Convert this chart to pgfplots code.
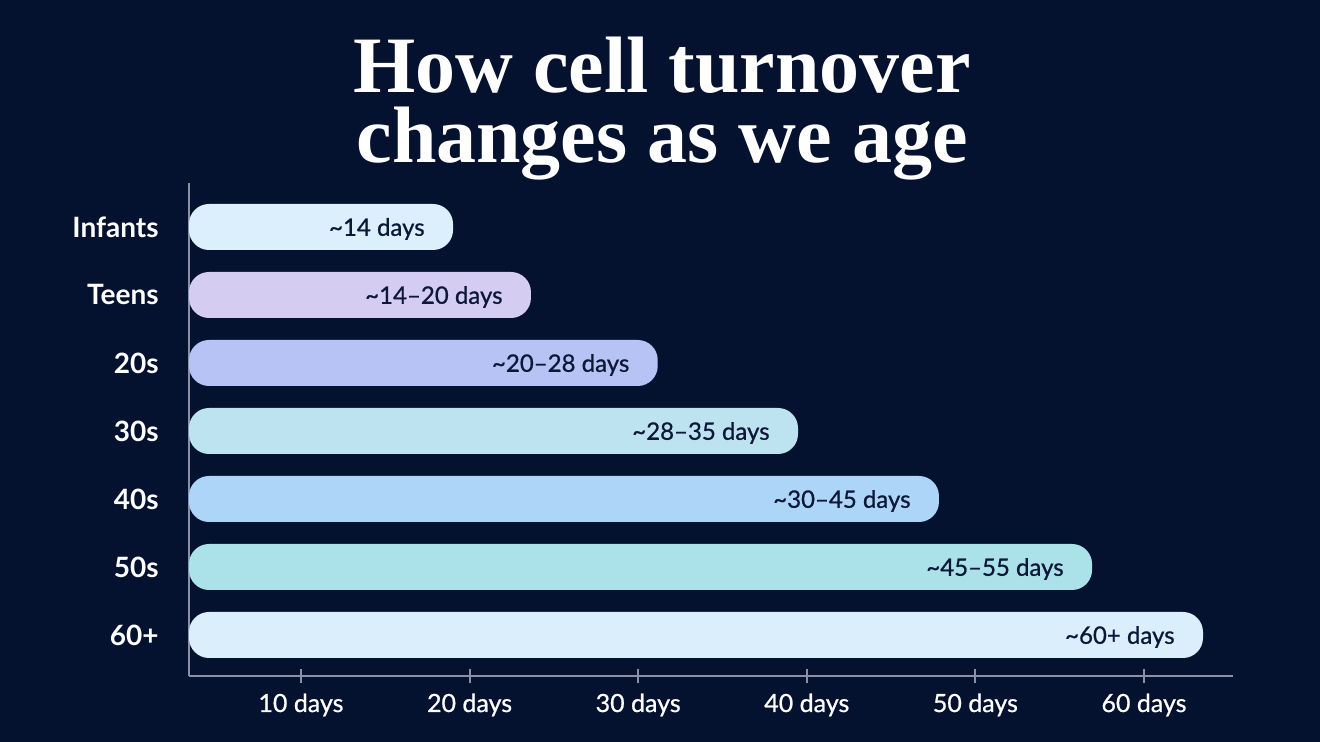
\documentclass[border=0pt]{standalone}
\usepackage{pgfplots}
\pgfplotsset{compat=1.18}
\usepackage{fontspec}
\setmainfont{Lato}
\newfontfamily\medfont[FakeBold=0.8]{Lato}
\newfontfamily\titlefont{Liberation Serif}
\definecolor{bg}{HTML}{04112F}
\definecolor{axisc}{HTML}{8A90A6}
\definecolor{lab}{HTML}{0D1838}
\definecolor{c1}{HTML}{DCEFFC}
\definecolor{c2}{HTML}{D4CDF1}
\definecolor{c3}{HTML}{B7C3F5}
\definecolor{c4}{HTML}{BEE3F0}
\definecolor{c5}{HTML}{ADD5F8}
\definecolor{c6}{HTML}{ABE1E8}
\definecolor{c7}{HTML}{DAEEFC}
\begin{document}
\begin{tikzpicture}
\fill[bg] (0,0) rectangle (660pt,371pt);
\node[anchor=base, text=white, font=\titlefont\bfseries\fontsize{40}{44}\selectfont, inner sep=0pt] at (331pt,324.5pt) {How cell turnover};
\node[anchor=base, text=white, font=\titlefont\bfseries\fontsize{40}{44}\selectfont, inner sep=0pt] at (331pt,289.5pt) {changes as we age};
\begin{axis}[
  at={(94.5pt,33pt)}, anchor=south west, scale only axis,
  width=522pt, height=246.5pt,
  xmin=3.36, xmax=65.28, ymin=-0.603, ymax=6.647,
  axis x line*=bottom, axis y line*=left,
  axis line style={draw=axisc, line width=1pt, -},
  xtick={10,20,30,40,50,60},
  xticklabels={10 days,20 days,30 days,40 days,50 days,60 days},
  ytick={0,1,2,3,4,5,6},
  yticklabels={60+,50s,40s,30s,20s,Teens,Infants},
  xtick align=center, major tick length=7pt,
  x tick style={draw=axisc, line width=1pt},
  y tick style={draw=none},
  x tick label style={font=\medfont\fontsize{12.5}{14}\selectfont, text=white, anchor=base, inner sep=0pt, yshift=-14.5pt},
  y tick label style={font=\bfseries\fontsize{14}{16}\selectfont, text=white, anchor=east, inner sep=0pt, xshift=-8pt},
  xbar, bar width=23pt, bar shift=0pt,
  nodes near coords, point meta=explicit symbolic,
  every node near coord/.append style={anchor=east, xshift=-14pt, yshift=-1pt, text=lab, font=\medfont\fontsize{12}{14}\selectfont, inner sep=0pt},
  clip=true,
]
\addplot[fill=c1, draw=none, rounded corners=10pt] coordinates {(19.02,6) [\textasciitilde 14 days]};
\addplot[fill=c2, draw=none, rounded corners=10pt] coordinates {(23.64,5) [\textasciitilde 14–20 days]};
\addplot[fill=c3, draw=none, rounded corners=10pt] coordinates {(31.16,4) [\textasciitilde 20–28 days]};
\addplot[fill=c4, draw=none, rounded corners=10pt] coordinates {(39.48,3) [\textasciitilde 28–35 days]};
\addplot[fill=c5, draw=none, rounded corners=10pt] coordinates {(47.84,2) [\textasciitilde 30–45 days]};
\addplot[fill=c6, draw=none, rounded corners=10pt] coordinates {(56.92,1) [\textasciitilde 45–55 days]};
\addplot[fill=c7, draw=none, rounded corners=10pt] coordinates {(63.50,0) [\textasciitilde 60+ days]};
\end{axis}
\end{tikzpicture}
\end{document}
